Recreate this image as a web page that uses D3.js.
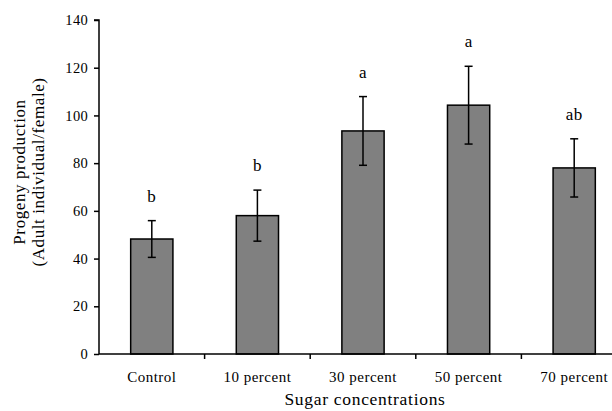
<!DOCTYPE html>
<html>
<head>
<meta charset="utf-8">
<script src="https://cdn.jsdelivr.net/npm/d3@7"></script>
<style>
  body { margin: 0; background: #fff; }
  svg { display: block; font-family: "Liberation Serif", "Times New Roman", serif; }
</style>
</head>
<body>
<div id="chart"></div>
<script>
const categories = ["Control", "10 percent", "30 percent", "50 percent", "70 percent"];
const means = [48.2, 58.0, 93.5, 104.3, 78.0];
const errors = [7.7, 10.7, 14.4, 16.3, 12.2];
const letters = ["b", "b", "a", "a", "ab"];
const yTicks = [0, 20, 40, 60, 80, 100, 120, 140];

const width = 612, height = 411;
const margin = { top: 20, left: 99, bottom: 57 };
const plotRight = 627;

const svg = d3.select("#chart")
    .append("svg")
    .attr("width", width)
    .attr("height", height);

const x = d3.scaleBand()
    .domain(categories)
    .range([margin.left, plotRight])
    .paddingInner(0.6)
    .paddingOuter(0.3);

const y = d3.scaleLinear()
    .domain([0, 140])
    .range([height - margin.bottom, margin.top]);

const step = x.step();
const bw = x.bandwidth();

// bars
svg.selectAll(".bar")
    .data(categories)
    .join("rect")
    .attr("x", d => x(d))
    .attr("y", (d, i) => y(means[i]))
    .attr("width", bw)
    .attr("height", (d, i) => y(0) - y(means[i]))
    .style("fill", "#808080")
    .style("stroke", "#000")
    .style("stroke-width", 1.5);

// error bars
const eb = svg.selectAll(".err")
    .data(categories)
    .join("g")
    .attr("transform", d => `translate(${x(d) + bw / 2},0)`);

eb.append("line")
    .attr("y1", (d, i) => y(means[i] + errors[i]))
    .attr("y2", (d, i) => y(means[i] - errors[i]))
    .style("stroke", "#000").style("stroke-width", 1.5);
eb.append("line")
    .attr("x1", -4).attr("x2", 4)
    .attr("y1", (d, i) => y(means[i] + errors[i]))
    .attr("y2", (d, i) => y(means[i] + errors[i]))
    .style("stroke", "#000").style("stroke-width", 1.5);
eb.append("line")
    .attr("x1", -4).attr("x2", 4)
    .attr("y1", (d, i) => y(means[i] - errors[i]))
    .attr("y2", (d, i) => y(means[i] - errors[i]))
    .style("stroke", "#000").style("stroke-width", 1.5);

// significance letters
eb.append("text")
    .attr("y", (d, i) => y(means[i] + errors[i]) - 19)
    .attr("text-anchor", "middle")
    .style("font-size", "17px")
    .style("letter-spacing", "0.4px")
    .text((d, i) => letters[i]);

// y axis
const yAxis = svg.append("g")
    .attr("transform", `translate(${margin.left},0)`)
    .call(d3.axisLeft(y).tickValues(yTicks).tickSize(5).tickPadding(6));
yAxis.select(".domain").attr("d", `M-5,${y(140)}H0V${y(0)}`).style("stroke-width", 1.5);
yAxis.selectAll(".tick line").style("stroke-width", 1.5);
yAxis.selectAll("text")
    .style("font-size", "14.5px")
    .style("font-family", "Liberation Serif")
    .style("letter-spacing", "0.3px");

// x axis: line plus ticks between categories
svg.append("line")
    .attr("x1", margin.left).attr("x2", plotRight)
    .attr("y1", y(0)).attr("y2", y(0))
    .style("stroke", "#000").style("stroke-width", 1.5);

svg.selectAll(".xtick")
    .data(categories.slice(1))
    .join("line")
    .attr("x1", d => x(d) - (step - bw) / 2)
    .attr("x2", d => x(d) - (step - bw) / 2)
    .attr("y1", y(0)).attr("y2", y(0) + 5)
    .style("stroke", "#000").style("stroke-width", 1.5);

svg.selectAll(".xlab")
    .data(categories)
    .join("text")
    .attr("x", d => x(d) + bw / 2)
    .attr("y", y(0) + 28)
    .attr("text-anchor", "middle")
    .style("font-size", "15px")
    .style("letter-spacing", "0.5px")
    .text(d => d);

// axis titles
svg.append("text")
    .attr("x", (margin.left + plotRight) / 2 + 2)
    .attr("y", 405)
    .attr("text-anchor", "middle")
    .style("font-size", "17.5px")
    .style("letter-spacing", "0.7px")
    .text("Sugar concentrations");

const yt = svg.append("text")
    .attr("transform", `translate(0,172) rotate(-90)`)
    .attr("text-anchor", "middle")
    .style("font-size", "17px")
    .style("letter-spacing", "0.6px");
yt.append("tspan").attr("x", 0).attr("y", 25).text("Progeny production");
yt.append("tspan").attr("x", 0).attr("y", 44).text("(Adult individual/female)");
</script>
</body>
</html>
